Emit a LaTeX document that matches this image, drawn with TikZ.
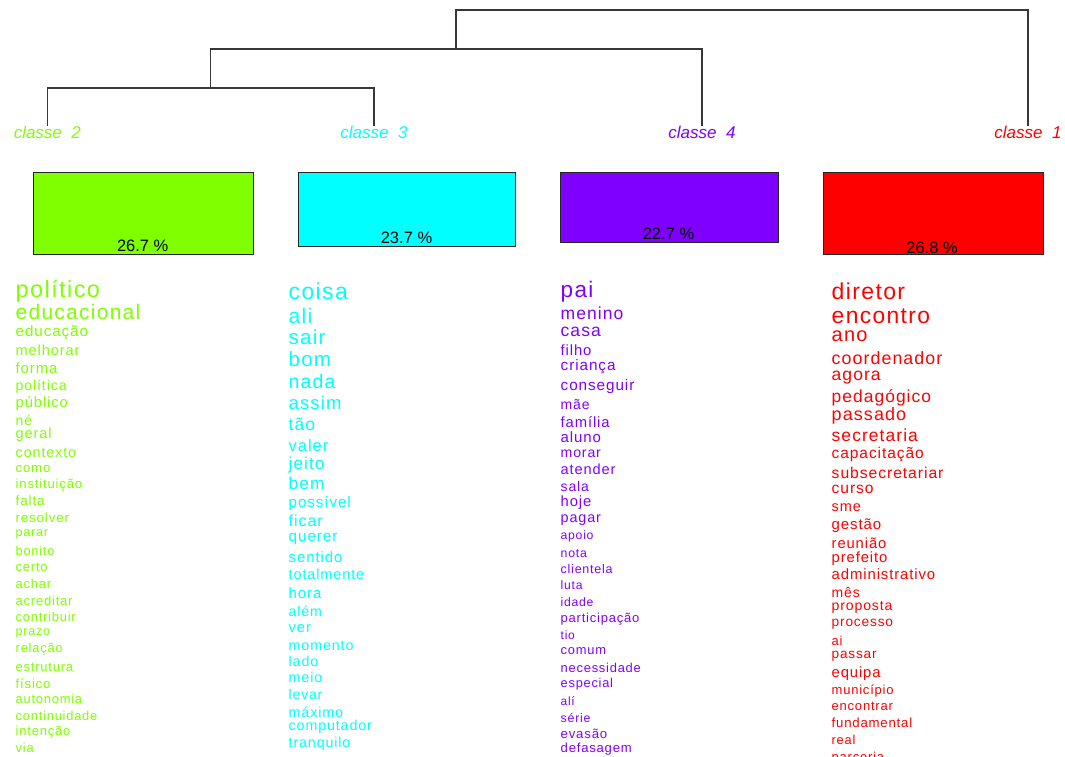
\documentclass[tikz,border=0pt]{standalone}
\usepackage{fontspec}
\setmainfont{Liberation Sans}
\newfontfamily\wf[LetterSpace=6]{Liberation Sans}
\newcommand\fsz[1]{\fontsize{#1}{#1}\selectfont}
\newcommand\wordat[5]{\node[wd,font={\wf\fsz{#4}}] (#1) at (#2,{#3+0.15*#4}) {#5};}
\definecolor{cgreen}{RGB}{128,255,0}
\definecolor{ccyan}{RGB}{0,255,255}
\definecolor{cpurple}{RGB}{128,0,255}
\definecolor{cred}{RGB}{255,0,0}
\definecolor{dline}{RGB}{55,55,55}
\begin{document}
\begin{tikzpicture}[x=1pt,y=-1pt,
  wd/.style={anchor=mid west,inner sep=0pt},
  lab/.style={anchor=base,inner sep=0pt,font={\itshape\fsz{17}}},
  dend/.style={draw=dline,line width=1.2pt},
  bar/.style={draw=black!85,line width=0.9pt,anchor=north west,inner sep=0pt},
  pct/.style={anchor=base,inner sep=0pt,font={\fsz{16.5}},text=black}]
\useasboundingbox (0,0) rectangle (1065,756);
\clip (0,0) rectangle (1065,756);

% class labels
\node[lab,text=cgreen]  (L2) at (47.3,138.5) {classe~~2};
\node[lab,text=ccyan]   (L3) at (374,138.5) {classe~~3};
\node[lab,text=cpurple] (L4) at (702,138.5) {classe~~4};
\node[lab,text=cred]    (L1) at (1028,138.5) {classe~~1};

% dendrogram
\coordinate (m23) at (210.5,88);
\coordinate (m234) at (456,49);
\coordinate (mroot) at (742,10);
\draw[dend] (L2.north) |- (m23) -| (L3.north);
\draw[dend] (m23) |- (m234) -| (L4.north);
\draw[dend] (m234) |- (mroot) -| (L1.north);

% bars
\node[bar,fill=cgreen,minimum width=220pt,minimum height=82.6pt]  (B2) at (32.7,171.7) {};
\node[bar,fill=ccyan,minimum width=217.5pt,minimum height=74pt]   (B3) at (297.8,171.7) {};
\node[bar,fill=cpurple,minimum width=218.3pt,minimum height=70.6pt] (B4) at (560,171.7) {};
\node[bar,fill=cred,minimum width=220pt,minimum height=82.6pt]    (B1) at (822.7,171.7) {};
\node[pct] (P2) at (142.7,251.5) {26.7 \%};
\node[pct] (P3) at (406.5,243) {23.7 \%};
\node[pct] (P4) at (668.5,239.8) {22.7 \%};
\node[pct] (P1) at (932,253.5) {26.8 \%};

% column classe 2
\begin{scope}[every node/.append style={text=cgreen}]
\wordat{g1}{15.5}{291}{23.5}{político}
\wordat{g2}{15.5}{314}{21}{educacional}
\wordat{g3}{15.5}{332}{15.2}{educação}
\wordat{g4}{15.5}{351}{14.6}{melhorar}
\wordat{g5}{15.5}{369}{14.9}{forma}
\wordat{g6}{15.5}{386}{14.2}{política}
\wordat{g7}{15.5}{403}{14.8}{público}
\wordat{g8}{15.5}{421}{14}{né}
\wordat{g9}{15.5}{434}{14.6}{geral}
\wordat{g10}{15.5}{453}{14.4}{contexto}
\wordat{g11}{15.5}{468}{13.2}{como}
\wordat{g12}{15.5}{484}{13.2}{instituição}
\wordat{g13}{15.5}{501}{13.6}{falta}
\wordat{g14}{15.5}{518}{13.4}{resolver}
\wordat{g15}{15.5}{532}{12.6}{parar}
\wordat{g16}{15.5}{551}{12.8}{bonito}
\wordat{g17}{15.5}{567}{13}{certo}
\wordat{g18}{15.5}{584}{13}{achar}
\wordat{g19}{15.5}{601}{13}{acreditar}
\wordat{g20}{15.5}{617}{12.9}{contribuir}
\wordat{g21}{15.5}{631}{12.5}{prazo}
\wordat{g22}{15.5}{648}{12.9}{relação}
\wordat{g23}{15.5}{667}{13}{estrutura}
\wordat{g24}{15.5}{684}{13.2}{físico}
\wordat{g25}{15.5}{699}{12.9}{autonomia}
\wordat{g26}{15.5}{716}{12.9}{continuidade}
\wordat{g27}{15.5}{731}{13}{intenção}
\wordat{g28}{15.5}{748}{13}{via}
\end{scope}

% column classe 3
\begin{scope}[every node/.append style={text=ccyan}]
\wordat{c1}{288.5}{293}{23}{coisa}
\wordat{c2}{288.5}{318}{21}{ali}
\wordat{c3}{288.5}{339}{20.5}{sair}
\wordat{c4}{288.5}{361}{20.5}{bom}
\wordat{c5}{288.5}{383}{19.5}{nada}
\wordat{c6}{288.5}{404}{18.5}{assim}
\wordat{c7}{288.5}{425}{17.5}{tão}
\wordat{c8}{288.5}{446}{16.5}{valer}
\wordat{c9}{288.5}{464}{17.3}{jeito}
\wordat{c10}{288.5}{484}{17.3}{bem}
\wordat{c11}{288.5}{503}{15.2}{possível}
\wordat{c12}{288.5}{521}{16}{ficar}
\wordat{c13}{288.5}{537}{15.3}{querer}
\wordat{c14}{288.5}{558}{15}{sentido}
\wordat{c15}{288.5}{575}{14.5}{totalmente}
\wordat{c16}{288.5}{594}{15}{hora}
\wordat{c17}{288.5}{612}{14.2}{além}
\wordat{c18}{288.5}{628}{14.8}{ver}
\wordat{c19}{288.5}{646}{14.3}{momento}
\wordat{c20}{288.5}{662}{14.3}{lado}
\wordat{c21}{288.5}{678}{14.3}{meio}
\wordat{c22}{288.5}{695}{14}{levar}
\wordat{c23}{288.5}{713}{14.3}{máximo}
\wordat{c24}{288.5}{726}{14.3}{computador}
\wordat{c25}{288.5}{743}{14.3}{tranquilo}
\end{scope}

% column classe 4
\begin{scope}[every node/.append style={text=cpurple}]
\wordat{p1}{560.5}{291}{22.5}{pai}
\wordat{p2}{560.5}{314}{17.5}{menino}
\wordat{p3}{560.5}{331}{17.5}{casa}
\wordat{p4}{560.5}{351}{14.8}{filho}
\wordat{p5}{560.5}{366}{15.3}{criança}
\wordat{p6}{560.5}{386}{15.3}{conseguir}
\wordat{p7}{560.5}{405}{14}{mãe}
\wordat{p8}{560.5}{423}{14.8}{família}
\wordat{p9}{560.5}{438}{15}{aluno}
\wordat{p10}{560.5}{453}{14.1}{morar}
\wordat{p11}{560.5}{470}{14.6}{atender}
\wordat{p12}{560.5}{487}{14}{sala}
\wordat{p13}{560.5}{502}{14.8}{hoje}
\wordat{p14}{560.5}{518}{14.4}{pagar}
\wordat{p15}{560.5}{535}{12.2}{apoio}
\wordat{p16}{560.5}{553}{12.3}{nota}
\wordat{p17}{560.5}{569}{12.5}{clientela}
\wordat{p18}{560.5}{585}{12.2}{luta}
\wordat{p19}{560.5}{602}{12.2}{idade}
\wordat{p20}{560.5}{618}{13}{participação}
\wordat{p21}{560.5}{635}{12}{tio}
\wordat{p22}{560.5}{650}{12.9}{comum}
\wordat{p23}{560.5}{668}{12.9}{necessidade}
\wordat{p24}{560.5}{683}{12.8}{especial}
\wordat{p25}{560.5}{701}{12}{alí}
\wordat{p26}{560.5}{718}{12.4}{série}
\wordat{p27}{560.5}{734}{13.2}{evasão}
\wordat{p28}{560.5}{748}{13.1}{defasagem}
\end{scope}

% column classe 1
\begin{scope}[every node/.append style={text=cred}]
\wordat{r1}{831.5}{293}{23}{diretor}
\wordat{r2}{831.5}{317}{22.8}{encontro}
\wordat{r3}{831.5}{336}{20}{ano}
\wordat{r4}{831.5}{359}{17.8}{coordenador}
\wordat{r5}{831.5}{375}{17.5}{agora}
\wordat{r6}{831.5}{397}{17.4}{pedagógico}
\wordat{r7}{831.5}{415}{18}{passado}
\wordat{r8}{831.5}{436}{17.5}{secretaria}
\wordat{r9}{831.5}{454}{15.5}{capacitação}
\wordat{r10}{831.5}{473}{15.7}{subsecretariar}
\wordat{r11}{831.5}{489}{15.6}{curso}
\wordat{r12}{831.5}{507}{14.5}{sme}
\wordat{r13}{831.5}{525}{15}{gestão}
\wordat{r14}{831.5}{544}{14.8}{reunião}
\wordat{r15}{831.5}{558}{14.8}{prefeito}
\wordat{r16}{831.5}{575}{14.9}{administrativo}
\wordat{r17}{831.5}{593}{14}{mês}
\wordat{r18}{831.5}{606}{14.1}{proposta}
\wordat{r19}{831.5}{622}{13.7}{processo}
\wordat{r20}{831.5}{641}{13}{ai}
\wordat{r21}{831.5}{654}{13.6}{passar}
\wordat{r22}{831.5}{673}{14.8}{equipa}
\wordat{r23}{831.5}{690}{13}{município}
\wordat{r24}{831.5}{706}{13}{encontrar}
\wordat{r25}{831.5}{723}{13.2}{fundamental}
\wordat{r26}{831.5}{740}{12.8}{real}
\wordat{r27}{831.5}{757}{13}{parceria}
\end{scope}
\end{tikzpicture}
\end{document}
